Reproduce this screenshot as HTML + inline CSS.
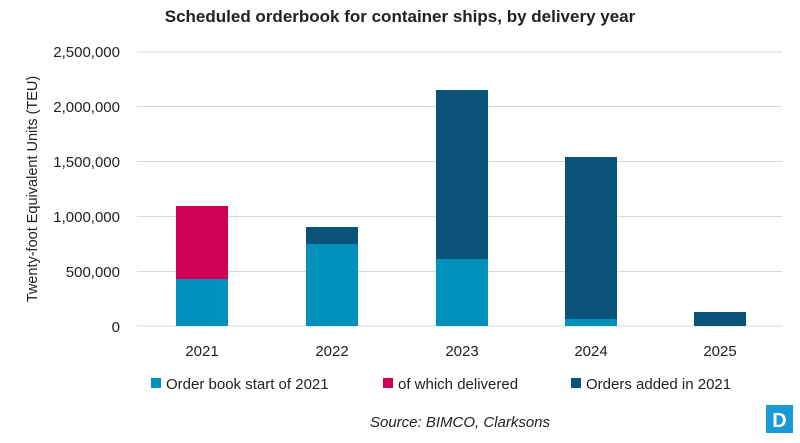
<!DOCTYPE html>
<html><head><meta charset="utf-8"><style>
body{margin:0;background:#fff;}
svg text{font-family:"Liberation Sans",Calibri,sans-serif;}
</style></head><body>
<svg width="800" height="438" xmlns="http://www.w3.org/2000/svg">
<rect width="800" height="438" fill="#fff"/>
<text x="400" y="22" text-anchor="middle" font-size="17" font-weight="bold" fill="#222">Scheduled orderbook for container ships, by delivery year</text>
<g stroke="#d9d9d9" stroke-width="1">
<line x1="137" x2="782" y1="52" y2="52"/>
<line x1="137" x2="782" y1="106.5" y2="106.5"/>
<line x1="137" x2="782" y1="161.5" y2="161.5"/>
<line x1="137" x2="782" y1="216.5" y2="216.5"/>
<line x1="137" x2="782" y1="271.5" y2="271.5"/>
<line x1="137" x2="782" y1="326" y2="326"/>
</g>
<g font-size="15" fill="#222" text-anchor="end">
<text x="120" y="57">2,500,000</text>
<text x="120" y="112">2,000,000</text>
<text x="120" y="167">1,500,000</text>
<text x="120" y="222">1,000,000</text>
<text x="120" y="277">500,000</text>
<text x="120" y="332">0</text>
</g>
<text transform="translate(37,189) rotate(-90)" text-anchor="middle" font-size="14.5" fill="#222">Twenty-foot Equivalent Units (TEU)</text>
<rect x="176" y="279" width="52" height="47" fill="#0091bd"/>
<rect x="176" y="206" width="52" height="73" fill="#d10057"/>
<rect x="306" y="244" width="52" height="82" fill="#0091bd"/>
<rect x="306" y="227" width="52" height="17" fill="#0b5479"/>
<rect x="436" y="259" width="52" height="67" fill="#0091bd"/>
<rect x="436" y="90" width="52" height="169" fill="#0b5479"/>
<rect x="565" y="319" width="52" height="7" fill="#0091bd"/>
<rect x="565" y="157" width="52" height="162" fill="#0b5479"/>
<rect x="694" y="312" width="52" height="14" fill="#0b5479"/>
<g font-size="15" fill="#222" text-anchor="middle">
<text x="202" y="356">2021</text>
<text x="332" y="356">2022</text>
<text x="462" y="356">2023</text>
<text x="591" y="356">2024</text>
<text x="720" y="356">2025</text>
</g>
<g font-size="15" fill="#222">
<rect x="151" y="378" width="10" height="10" fill="#0091bd"/>
<text x="166" y="389">Order book start of 2021</text>
<rect x="383" y="378" width="10" height="10" fill="#d10057"/>
<text x="398" y="389">of which delivered</text>
<rect x="571" y="378" width="10" height="10" fill="#0b5479"/>
<text x="586" y="389">Orders added in 2021</text>
</g>
<text x="460" y="427" text-anchor="middle" font-size="15" font-style="italic" fill="#222">Source: BIMCO, Clarksons</text>
<rect x="766" y="405" width="27" height="28" fill="#1a9ad6"/>
<text x="779.5" y="427" text-anchor="middle" font-size="20" font-weight="bold" fill="#fff">D</text>
</svg>
</body></html>
